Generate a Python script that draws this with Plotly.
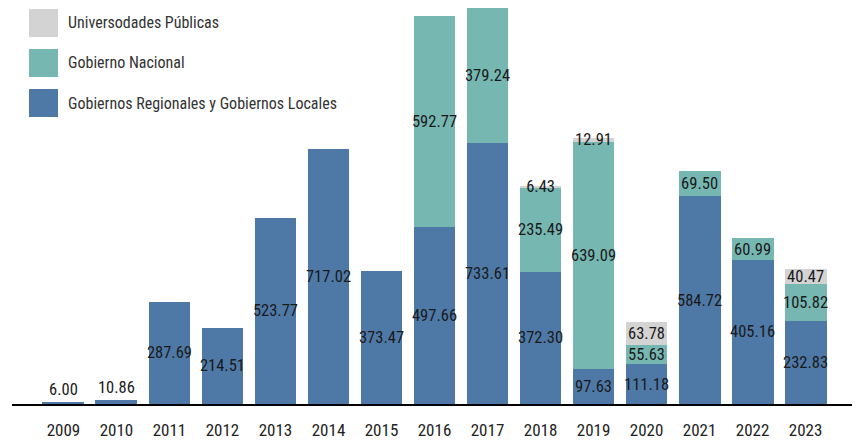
import plotly.graph_objects as go

years = [str(y) for y in range(2009, 2024)]
gobiernos_regionales = [6.00, 10.86, 287.69, 214.51, 523.77, 717.02, 373.47, 497.66,
                        733.61, 372.30, 97.63, 111.18, 584.72, 405.16, 232.83]
gobierno_nacional = [None, None, None, None, None, None, None, 592.77,
                     379.24, 235.49, 639.09, 55.63, 69.50, 60.99, 105.82]
universidades = [None, None, None, None, None, None, None, None,
                 None, 6.43, 12.91, 63.78, None, None, 40.47]

series = [
    ("Gobiernos Regionales y Gobiernos Locales", gobiernos_regionales, "#4e79a7"),
    ("Gobierno Nacional", gobierno_nacional, "#76b7b2"),
    ("Universodades Públicas", universidades, "#d3d3d3"),
]

FONT = "Roboto Condensed, Roboto, sans-serif"
# page has an 8px body margin; the figure sits at (8, 8)
W, H = 852, 433
ML, MR, MT, MB = 4, 3, 0, 37
PW, PH = W - ML - MR, H - MT - MB

fig = go.Figure()
for name, vals, color in series:
    if name.startswith("Gobiernos Regionales"):
        tpos = ["outside" if v is not None and v < 20 else "inside" for v in vals]
    else:
        tpos = "inside"
    fig.add_trace(go.Bar(
        x=years, y=vals, name=name, marker_color=color, marker_line_width=0,
        text=[f"{v:.2f}" if v is not None else "" for v in vals],
        textposition=tpos, insidetextanchor="middle", textangle=0,
        constraintext="none", cliponaxis=False,
        textfont=dict(family=FONT, size=16.5, color="#1a1a1a"),
        insidetextfont=dict(family=FONT, size=16.5, color="#1a1a1a"),
        outsidetextfont=dict(family=FONT, size=16.5, color="#1a1a1a"),
        showlegend=False,
    ))

# Custom legend (large swatches), positions given in page pixels
def px_x(p):
    return (p - 8 - ML) / PW

def px_y(p):
    return (MT + PH - (p - 8)) / PH

shapes, annotations = [], []
legend_order = [series[2], series[1], series[0]]
for i, (name, _, color) in enumerate(legend_order):
    top = 9 + 40 * i
    shapes.append(dict(type="rect", xref="paper", yref="paper",
                       x0=px_x(29), x1=px_x(58), y0=px_y(top + 28), y1=px_y(top),
                       fillcolor=color, line_width=0))
    annotations.append(dict(xref="paper", yref="paper", x=px_x(66), y=px_y(top + 14),
                            text=name, showarrow=False, xanchor="left", yanchor="middle",
                            font=dict(family=FONT, size=16, color="#333333")))

fig.update_layout(
    width=W, height=H, barmode="stack", bargap=0.21,
    margin=dict(l=ML, r=MR, t=MT, b=MB),
    plot_bgcolor="white", paper_bgcolor="white",
    shapes=shapes, annotations=annotations,
    font=dict(family=FONT),
    xaxis=dict(type="category", range=[-0.97, 14.97], showline=True, linecolor="#000000",
               linewidth=2, showgrid=False, ticks="", ticklabelstandoff=10,
               tickfont=dict(family=FONT, size=17, color="#222222")),
    yaxis=dict(range=[0, 1114], visible=False, showgrid=False, zeroline=False),
)

fig.write_html("out.html")
